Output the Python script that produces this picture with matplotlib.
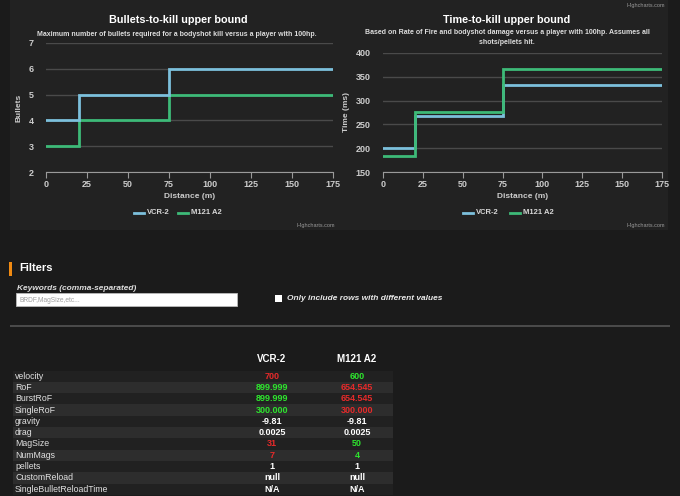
import matplotlib
matplotlib.use("Agg")
import matplotlib.pyplot as plt
from matplotlib.patches import Rectangle
from matplotlib.lines import Line2D

# ---------------- data ----------------
distance = [0, 20, 75, 175]
weapons = ["VCR-2", "M121 A2"]
bullets_vcr = [4, 5, 6, 6]
bullets_m121 = [3, 4, 5, 5]
ttk_vcr = [200, 266.7, 333.3, 333.3]
ttk_m121 = [183.3, 275, 366.7, 366.7]
x_ticks = [0, 25, 50, 75, 100, 125, 150, 175]
bullet_ticks = [2, 3, 4, 5, 6, 7]
time_ticks = [150, 200, 250, 300, 350, 400]

row_names = ["velocity", "RoF", "BurstRoF", "SingleRoF", "gravity", "drag",
             "MagSize", "NumMags", "pellets", "CustomReload", "SingleBulletReloadTime"]
vcr_values = ["700", "899.999", "899.999", "300.000", "-9.81", "0.0025", "31", "7", "1", "null", "N/A"]
m121_values = ["600", "654.545", "654.545", "300.000", "-9.81", "0.0025", "50", "4", "1", "null", "N/A"]
vcr_flags = ["bad", "good", "good", "good", "", "", "bad", "bad", "", "", ""]
m121_flags = ["good", "bad", "bad", "bad", "", "", "good", "good", "", "", ""]

# ---------------- style ----------------
W, H = 680, 496
PAGE = "#1b1b1b"
CARD = "#222222"
BLUE = "#7cc0dc"
GREEN = "#3dba78"
GRID = "#4a4a4a"
TICK = "#cccccc"
FONT = "Liberation Sans"
plt.rcParams["font.family"] = [FONT, "DejaVu Sans"]

fig = plt.figure(figsize=(W / 100, H / 100), dpi=100, facecolor=PAGE)


def fx(x):
    return x / W


def fy(y):
    return 1 - y / H


def rect(x0, y0, x1, y1, color, z=0, **kw):
    fig.add_artist(Rectangle((fx(x0), fy(y1)), fx(x1) - fx(x0), fy(y0) - fy(y1),
                             transform=fig.transFigure, facecolor=color,
                             edgecolor=kw.pop("ec", "none"), zorder=z, **kw))


def txt(x, y, s, **kw):
    kw.setdefault("color", "white")
    kw.setdefault("va", "center")
    fig.text(fx(x), fy(y), s, **kw)


# card behind charts
rect(10, 0, 668, 230, CARD, z=-5)


def make_chart(left_px, right_px, top_px, bottom_px, ylim, yticks, series, ylabel):
    ax = fig.add_axes([fx(left_px), fy(bottom_px), fx(right_px) - fx(left_px),
                       fy(top_px) - fy(bottom_px)])
    ax.set_facecolor(CARD)
    for vals, col in series:
        ax.step(distance, vals, where="post", color=col, lw=2.0, solid_joinstyle="miter")
    ax.set_xlim(0, 175)
    ax.set_ylim(*ylim)
    ax.set_xticks(x_ticks)
    ax.set_yticks(yticks)
    ax.grid(axis="y", color=GRID, lw=1)
    ax.set_axisbelow(True)
    for s in ["top", "right", "left"]:
        ax.spines[s].set_visible(False)
    ax.spines["bottom"].set_color("#9a9a9a")
    ax.tick_params(axis="x", colors="#9a9a9a", labelcolor=TICK, labelsize=6.5,
                   length=4, width=0.8, pad=2)
    ax.tick_params(axis="y", length=0, labelcolor=TICK, labelsize=6.5, pad=9)
    for lab in ax.get_xticklabels() + ax.get_yticklabels():
        lab.set_fontweight("bold")
    ax.set_xlabel("Distance (m)", color=TICK, fontsize=6, fontweight="bold", labelpad=3)
    ax.set_ylabel(ylabel, color=TICK, fontsize=6, fontweight="bold", labelpad=4)
    return ax


make_chart(46, 333, 43, 172, (2, 7), bullet_ticks,
           [(bullets_m121, GREEN), (bullets_vcr, BLUE)], "Bullets")
make_chart(383, 662, 53, 172, (150, 400), time_ticks,
           [(ttk_vcr, BLUE), (ttk_m121, GREEN)], "Time (ms)")

# titles
SUB = "#dddddd"
txt(178, 20, "Bullets-to-kill upper bound", ha="center", fontsize=7.8, fontweight="bold")
txt(177, 34, "Maximum number of bullets required for a bodyshot kill versus a player with 100hp.",
    ha="center", fontsize=5, fontweight="bold", color=SUB)
txt(507, 20, "Time-to-kill upper bound", ha="center", fontsize=7.8, fontweight="bold")
txt(507, 33, "Based on Rate of Fire and bodyshot damage versus a player with 100hp. Assumes all",
    ha="center", fontsize=5, fontweight="bold", color=SUB)
txt(507, 43, "shots/pellets hit.", ha="center", fontsize=5, fontweight="bold", color=SUB)

# legends
def legend(x_start, x_second):
    for (xs, name, col) in [(x_start, weapons[0], BLUE), (x_second, weapons[1], GREEN)]:
        fig.add_artist(Line2D([fx(xs), fx(xs + 10)], [fy(213), fy(213)], color=col, lw=2,
                              transform=fig.transFigure))
        txt(xs + 13, 213, name, fontsize=5.5, fontweight="bold", color="#d8d8d8")


legend(134, 178)
legend(463, 510)

# highcharts credits
for (x, y) in [(335, 225), (665, 225), (665, 5)]:
    txt(x, y, "Highcharts.com", ha="right", fontsize=4, color="#9a9a9a")

# ---------------- filters section ----------------
rect(9, 262, 12, 276, "#f08a12", z=2)
txt(19, 268, "Filters", fontsize=8, fontweight="bold")
txt(17, 288, "Keywords (comma-separated)", fontsize=6, fontstyle="italic",
    fontweight="bold", color="#dddddd")
rect(16, 293, 237, 306, "#ffffff", z=2, ec="#bbbbbb", lw=0.6)
txt(20, 300, "BRDF,MagSize,etc...", fontsize=4.8, color="#a0a0a0", zorder=3)
rect(275, 295, 282, 302, "#ffffff", z=2)
txt(287, 298.5, "Only include rows with different values", fontsize=6,
    fontstyle="italic", fontweight="bold", color="#e8e8e8")
rect(10, 325, 670, 327, "#4a4a4a", z=1)

# ---------------- table ----------------
col_x = [272, 357]
txt(col_x[0], 359, weapons[0], ha="center", fontsize=7, fontweight="bold")
txt(col_x[1], 359, weapons[1], ha="center", fontsize=7, fontweight="bold")
row_h = 11.3
y0 = 370.5
flag_color = {"good": "#2ee62e", "bad": "#e62a2a", "": "#ffffff"}
for i, name in enumerate(row_names):
    top = y0 + i * row_h
    cy = top + row_h / 2
    rect(13, top, 393, top + row_h, "#2d2d2d" if i % 2 else "#212121", z=0)
    txt(15, cy, name, fontsize=6.3, color="#e0e0e0")
    txt(col_x[0], cy, vcr_values[i], ha="center", fontsize=6.5, fontweight="bold",
        color=flag_color[vcr_flags[i]])
    txt(col_x[1], cy, m121_values[i], ha="center", fontsize=6.5, fontweight="bold",
        color=flag_color[m121_flags[i]])

fig.savefig("out.png", dpi=100, facecolor=PAGE)
